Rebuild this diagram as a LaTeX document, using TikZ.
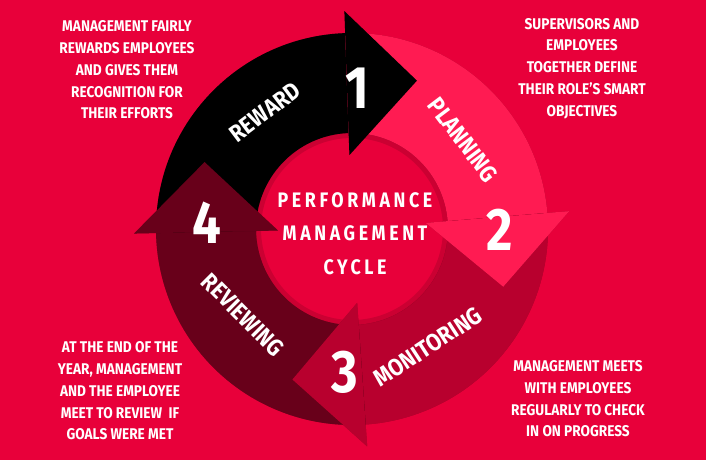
\documentclass[tikz,border=0pt]{standalone}
\usepackage{fontspec}
\newfontfamily\cf{Fira Sans}[FakeStretch=0.88]
\newfontfamily\cfn{Fira Sans}[FakeStretch=0.85]
\newfontfamily\cfl{Fira Sans}[LetterSpace=17,FakeStretch=0.85]
\usetikzlibrary{calc}
\definecolor{bgred}{RGB}{232,0,58}
\definecolor{pinkred}{RGB}{255,27,82}
\definecolor{monred}{RGB}{184,0,46}
\definecolor{revred}{RGB}{104,0,26}
\newcommand\myband[3]{%
  \fill[#1] ($(C)+(#2:196)$) arc[start angle=#2, end angle=#3, radius=196]
    -- ($(C)+(#3:96)$) arc[start angle=#3, end angle=#2, radius=96] -- cycle;}
\newcommand\myhead[2]{%
  \fill[#1] ($(C)+(#2:218)$) -- ($(C)+(#2:146)+(#2-90:70)$) -- ($(C)+(#2:74)$) -- cycle;}
\tikzset{
  corner/.style={text=white, align=center, font=\cf\bfseries\fontsize{15.5}{21.7}\selectfont},
  centre/.style={text=white, align=center, font=\cfl\bfseries\fontsize{21}{33.5}\selectfont},
  num/.style={text=white, font=\cfn\bfseries\fontsize{60}{62}\selectfont},
  lbl/.style={text=white, font=\cf\bfseries\fontsize{24}{26}\selectfont},
  shad/.style={black, opacity=0.28}
}
\begin{document}
\begin{tikzpicture}[x=1pt,y=1pt]
\fill[bgred] (0,0) rectangle (706,460);
\useasboundingbox (0,0) rectangle (706,460);
\coordinate (C) at (352,231);
% shadows of bands
\begin{scope}[shift={(1.5,-2)}]
  \myband{shad}{181.2}{92}
  \myband{shad}{92}{4.7}
  \myband{shad}{4.7}{-86}
  \myband{shad}{-86}{-178.8}
\end{scope}
% bands
\myband{black}{181.2}{92}
\myband{pinkred}{92}{4.7}
\myband{monred}{4.7}{-86}
\myband{revred}{-86}{-178.8}
% soft shadow on the centre disc
\draw[black, opacity=0.12, line width=5pt] (C) circle[radius=93.5];
% head shadows
\begin{scope}[shift={(1.5,-2)}]
  \myhead{shad}{92}
  \myhead{shad}{4.7}
  \myhead{shad}{-86}
  \myhead{shad}{181.2}
\end{scope}
% heads
\myhead{black}{92}
\myhead{pinkred}{4.7}
\myhead{monred}{-86}
\myhead{revred}{181.2}
% numbers
\node[num] (n1) at (357,372) {1};
\node[num] (n2) at (500,230) {2};
\node[num] (n3) at (345,88) {3};
\node[num] (n4) at (207,237) {4};
% labels
\node[lbl, rotate=37] (l1) at (265,348) {REWARD};
\node[lbl, rotate=-53] (l2) at (463,320) {PLANNING};
\node[lbl, rotate=33] (l3) at (428,113) {MONITORING};
\node[lbl, rotate=-45] (l4) at (243,145) {REVIEWING};
% centre
\node[centre] (ctr) at (355,226.5) {PERFORMANCE\\MANAGEMENT\\CYCLE};
% corner texts
\node[corner] (t1) at (127,390) {MANAGEMENT FAIRLY\\REWARDS EMPLOYEES\\AND GIVES THEM\\RECOGNITION FOR\\THEIR EFFORTS};
\node[corner] (t2) at (582,391.5) {SUPERVISORS AND\\EMPLOYEES\\TOGETHER DEFINE\\THEIR ROLE’S SMART\\OBJECTIVES};
\node[corner] (t3) at (120,69) {AT THE END OF THE\\YEAR, MANAGEMENT\\AND THE EMPLOYEE\\MEET TO REVIEW\ \ IF\\GOALS WERE MET};
\node[corner] (t4) at (578,61) {MANAGEMENT MEETS\\WITH EMPLOYEES\\REGULARLY TO CHECK\\IN ON PROGRESS};
\end{tikzpicture}
\end{document}
